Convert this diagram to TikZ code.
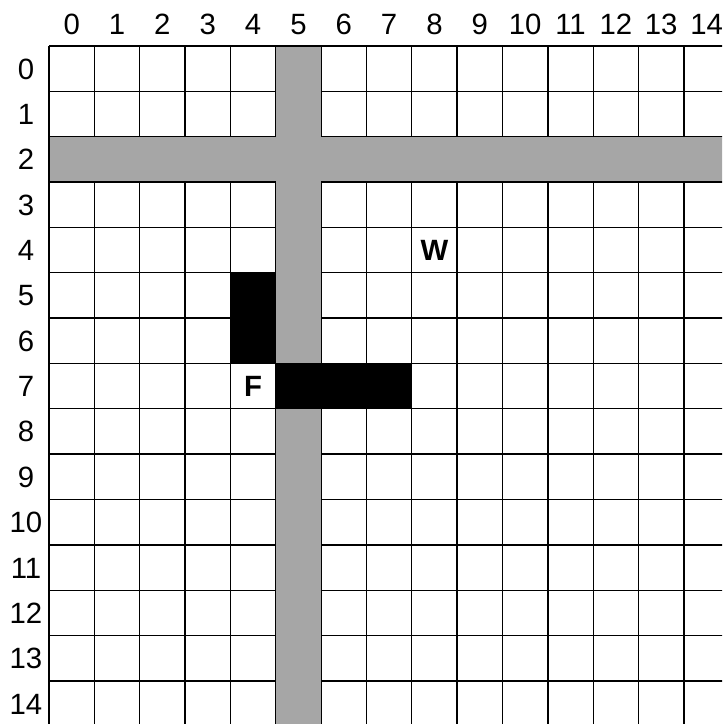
\documentclass[tikz,border=0pt]{standalone}
\usepackage{fontspec}
\setmainfont{Liberation Sans}
\definecolor{road}{RGB}{166,166,166}
\tikzset{
  gridline/.style={line width=1pt, black},
  axislabel/.style={font=\fontsize{22}{24}\selectfont, inner sep=0pt, anchor=base},
  marklabel/.style={font=\fontsize{22}{24}\selectfont\bfseries, inner sep=0pt, anchor=base},
}
\begin{document}
\begin{tikzpicture}[x=0.75pt,y=-0.75pt]
\def\X{49}\def\Y{46}\def\C{45.35}\def\H{10.5}
\useasboundingbox (0,0) rectangle (722,724);
\fill[white] (0,0) rectangle (722,724);
\begin{scope}
\clip (0,0) rectangle (722,724);
% grid
\foreach \i in {0,...,15} {
  \draw[gridline] ({\X+\i*\C},\Y) -- ({\X+\i*\C},{\Y+15*\C});
  \draw[gridline] (\X,{\Y+\i*\C}) -- ({\X+15*\C},{\Y+\i*\C});
}
% grey road: row 2 and column 5
\fill[road] ({\X+0.6},{\Y+2*\C+0.6}) rectangle ({\X+15*\C},{\Y+3*\C-0.6});
\fill[road] ({\X+5*\C+0.6},{\Y+0.6}) rectangle ({\X+6*\C-0.6},{\Y+15*\C});
% black walls
\fill[black] ({\X+4*\C},{\Y+5*\C}) rectangle ({\X+5*\C},{\Y+7*\C});
\fill[black] ({\X+5*\C},{\Y+7*\C}) rectangle ({\X+8*\C},{\Y+8*\C});
\end{scope}
% axis labels
\foreach \i in {0,...,14} {
  \node[axislabel] (col\i) at ({\X+(\i+0.5)*\C},{24+\H}) {\i};
  \node[axislabel] (row\i) at (26,{\Y+(\i+0.5)*\C+\H}) {\i};
}
% markers
\node[marklabel] (F) at ({\X+4.5*\C},{\Y+7.5*\C+\H}) {F};
\node[marklabel] (W) at ({\X+8.5*\C},{\Y+4.5*\C+\H}) {W};
\end{tikzpicture}
\end{document}
